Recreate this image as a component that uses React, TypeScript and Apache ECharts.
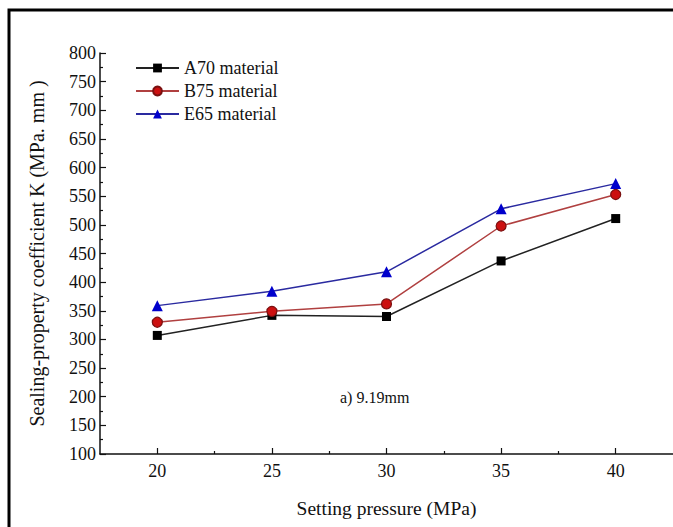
import React, { useEffect, useRef } from "react";
import * as echarts from "echarts";

const pressures = [20, 25, 30, 35, 40];
const a70 = [307, 342, 340, 437, 511];
const b75 = [330, 349, 362, 498, 553];
const e65 = [359, 384, 418, 528, 572];
const seriesNames = ["A70 material", "B75 material", "E65 material"];
const xMajorTicks = [20, 25, 30, 35, 40];
const xMinorTicks = [22.5, 27.5, 32.5, 37.5];

const FONT = "'Liberation Serif', 'Times New Roman', serif";

export default function App() {
  const ref = useRef<HTMLDivElement>(null);
  useEffect(() => {
    if (!ref.current) return;
    const chart = echarts.init(ref.current, null, { renderer: "svg" });
    const pair = (ys: number[]) => pressures.map((x, i) => [x, ys[i]]);
    chart.setOption({
      animation: false,
      backgroundColor: "#fff",
      textStyle: { fontFamily: FONT },
      grid: { left: 100, top: 53, right: -1, bottom: 73, containLabel: false },
      legend: {
        orient: "vertical",
        left: 130,
        top: 54,
        itemWidth: 43,
        itemHeight: 11,
        itemGap: 5,
        textStyle: { fontFamily: FONT, fontSize: 18, color: "#111" },
        data: seriesNames,
      },
      xAxis: [
        {
          type: "value",
          min: 17.5,
          max: 42.5,
          name: "Setting pressure (MPa)",
          nameLocation: "middle",
          nameGap: 44,
          nameTextStyle: { fontFamily: FONT, fontSize: 19.5, color: "#111" },
          axisLine: { show: true, lineStyle: { color: "#111", width: 1.5 } },
          axisTick: { show: true, inside: true, length: 6, customValues: xMajorTicks, lineStyle: { color: "#111", width: 1.2 } },
          axisLabel: { customValues: xMajorTicks, fontFamily: FONT, fontSize: 18, color: "#111", margin: 8 },
          splitLine: { show: false },
        },
        {
          type: "value",
          min: 17.5,
          max: 42.5,
          position: "bottom",
          axisLine: { show: false },
          axisTick: { show: true, inside: true, length: 3, customValues: xMinorTicks, lineStyle: { color: "#111", width: 1.2 } },
          axisLabel: { show: false },
          splitLine: { show: false },
        },
      ],
      yAxis: {
        type: "value",
        min: 100,
        max: 800,
        interval: 50,
        name: "Sealing-property coefficient K (MPa. mm )",
        nameLocation: "middle",
        nameGap: 53,
        nameTextStyle: { fontFamily: FONT, fontSize: 20, color: "#111" },
        axisLine: { show: true, lineStyle: { color: "#111", width: 1.5 } },
        axisTick: { show: true, inside: true, length: 6, lineStyle: { color: "#111", width: 1.2 } },
        minorTick: { show: true, splitNumber: 2, length: 3, lineStyle: { color: "#111", width: 1.2 } },
        axisLabel: { fontFamily: FONT, fontSize: 18, color: "#111", margin: 4 },
        splitLine: { show: false },
      },
      graphic: [
        {
          type: "rect",
          shape: { x: 9, y: 10, width: 700, height: 600 },
          style: { fill: "none", stroke: "#000", lineWidth: 3 },
          silent: true,
        },
        {
          type: "text",
          left: 340,
          top: 389,
          style: { text: "a) 9.19mm", fontFamily: FONT, fontSize: 16, fill: "#111" },
        },
      ],
      series: [
        {
          name: seriesNames[0],
          type: "line",
          data: pair(a70),
          symbol: "rect",
          symbolSize: 9,
          itemStyle: { color: "#000" },
          lineStyle: { color: "#222", width: 1.5 },
        },
        {
          name: seriesNames[1],
          type: "line",
          data: pair(b75),
          symbol: "circle",
          symbolSize: 10,
          itemStyle: { color: "#cc1010", borderColor: "#7a1010", borderWidth: 1.2 },
          lineStyle: { color: "#b04040", width: 1.5 },
        },
        {
          name: seriesNames[2],
          type: "line",
          data: pair(e65),
          symbol: "triangle",
          symbolSize: 11,
          itemStyle: { color: "#0000cc" },
          lineStyle: { color: "#2a2aa0", width: 1.5 },
        },
      ],
    });
    return () => chart.dispose();
  }, []);
  return (
    <div
      ref={ref}
      style={{ position: "fixed", left: 0, top: 0, width: 673, height: 527 }}
    />
  );
}
